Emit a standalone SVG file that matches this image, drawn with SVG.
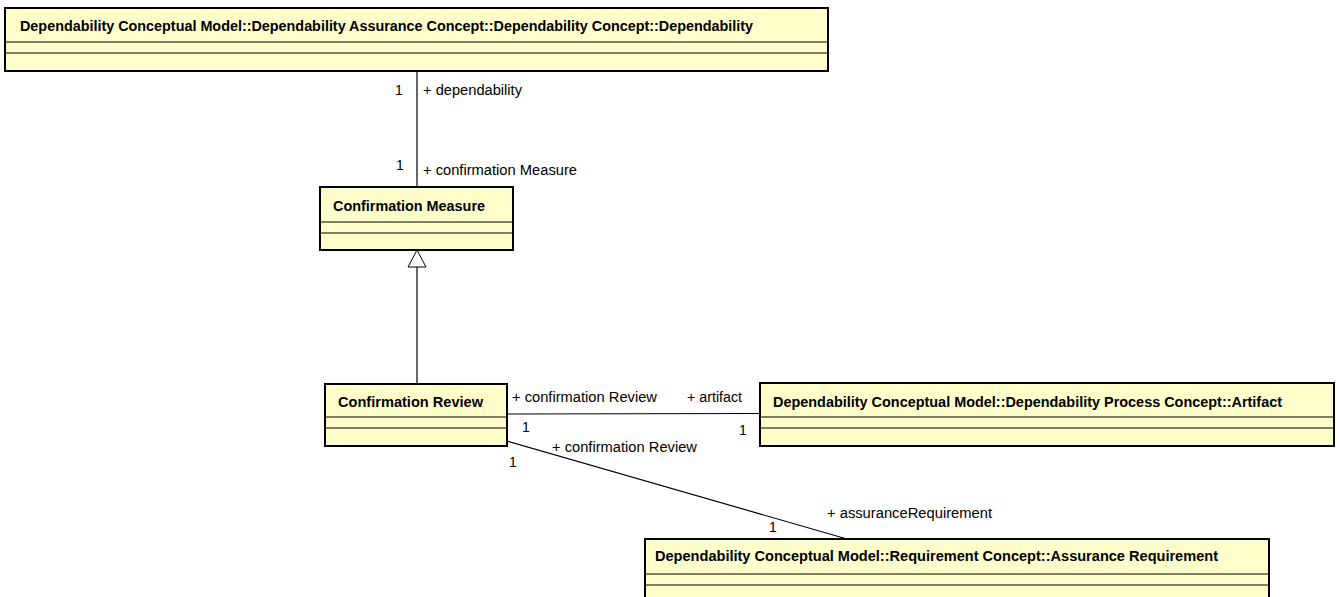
<svg xmlns="http://www.w3.org/2000/svg" width="1340" height="597" viewBox="0 0 1340 597">
  <style>
    .cls { fill: #FFFFCC; stroke: #000; stroke-width: 2; }
    .div { stroke: #000; stroke-width: 1; fill: none; }
    .edge { stroke: #000; stroke-width: 1.2; fill: none; }
    .title { font-family: "Liberation Sans", Arial, sans-serif; font-size: 14px; font-weight: bold; fill: #000; }
    .lbl { font-family: "Liberation Sans", Arial, sans-serif; font-size: 14px; fill: #000; }
  </style>

  <rect width="1340" height="597" fill="#fff"/>

  <!-- associations and generalization -->
  <g id="connectors">
    <line class="edge" x1="417" y1="71" x2="417" y2="187"/>
    <line class="edge" x1="417" y1="267" x2="417" y2="384"/>
    <path d="M417,250 L426,267 L408,267 Z" fill="#fff" stroke="#000" stroke-width="1"/>
    <line class="edge" x1="507" y1="414" x2="760" y2="413.5"/>
    <line class="edge" x1="507" y1="441" x2="847" y2="539"/>

    <text class="lbl" x="395" y="95">1</text>
    <text class="lbl" x="423" y="95" textLength="99" lengthAdjust="spacingAndGlyphs">+ dependability</text>
    <text class="lbl" x="396" y="170">1</text>
    <text class="lbl" x="423" y="175" textLength="154" lengthAdjust="spacingAndGlyphs">+ confirmation Measure</text>

    <text class="lbl" x="512" y="402" textLength="145" lengthAdjust="spacingAndGlyphs">+ confirmation Review</text>
    <text class="lbl" x="687" y="402" textLength="55" lengthAdjust="spacingAndGlyphs">+ artifact</text>
    <text class="lbl" x="522" y="432">1</text>
    <text class="lbl" x="739" y="435">1</text>

    <text class="lbl" x="552" y="452" textLength="145" lengthAdjust="spacingAndGlyphs">+ confirmation Review</text>
    <text class="lbl" x="509" y="467">1</text>
    <text class="lbl" x="769" y="532">1</text>
    <text class="lbl" x="827" y="518" textLength="165" lengthAdjust="spacingAndGlyphs">+ assuranceRequirement</text>
  </g>

  <g id="dependability">
    <rect class="cls" x="5" y="8" width="823" height="63"/>
    <line class="div" x1="5" y1="42" x2="828" y2="42"/>
    <line class="div" x1="5" y1="53" x2="828" y2="53"/>
    <text class="title" x="20" y="31" textLength="733" lengthAdjust="spacingAndGlyphs">Dependability Conceptual Model::Dependability Assurance Concept::Dependability Concept::Dependability</text>
  </g>

  <g id="confirmation-measure">
    <rect class="cls" x="320" y="187" width="193" height="63"/>
    <line class="div" x1="320" y1="222" x2="513" y2="222"/>
    <line class="div" x1="320" y1="233" x2="513" y2="233"/>
    <text class="title" x="333" y="211" textLength="152" lengthAdjust="spacingAndGlyphs">Confirmation Measure</text>
  </g>

  <g id="confirmation-review">
    <rect class="cls" x="325" y="384" width="182" height="62"/>
    <line class="div" x1="325" y1="417" x2="507" y2="417"/>
    <line class="div" x1="325" y1="428" x2="507" y2="428"/>
    <text class="title" x="338" y="407" textLength="145" lengthAdjust="spacingAndGlyphs">Confirmation Review</text>
  </g>

  <g id="artifact">
    <rect class="cls" x="760" y="383" width="574" height="63"/>
    <line class="div" x1="760" y1="417" x2="1334" y2="417"/>
    <line class="div" x1="760" y1="428" x2="1334" y2="428"/>
    <text class="title" x="773" y="407" textLength="509" lengthAdjust="spacingAndGlyphs">Dependability Conceptual Model::Dependability Process Concept::Artifact</text>
  </g>

  <g id="assurance-requirement">
    <rect class="cls" x="645" y="539" width="624" height="70"/>
    <line class="div" x1="645" y1="574" x2="1269" y2="574"/>
    <line class="div" x1="645" y1="585" x2="1269" y2="585"/>
    <text class="title" x="655" y="561" textLength="563" lengthAdjust="spacingAndGlyphs">Dependability Conceptual Model::Requirement Concept::Assurance Requirement</text>
  </g>
</svg>
